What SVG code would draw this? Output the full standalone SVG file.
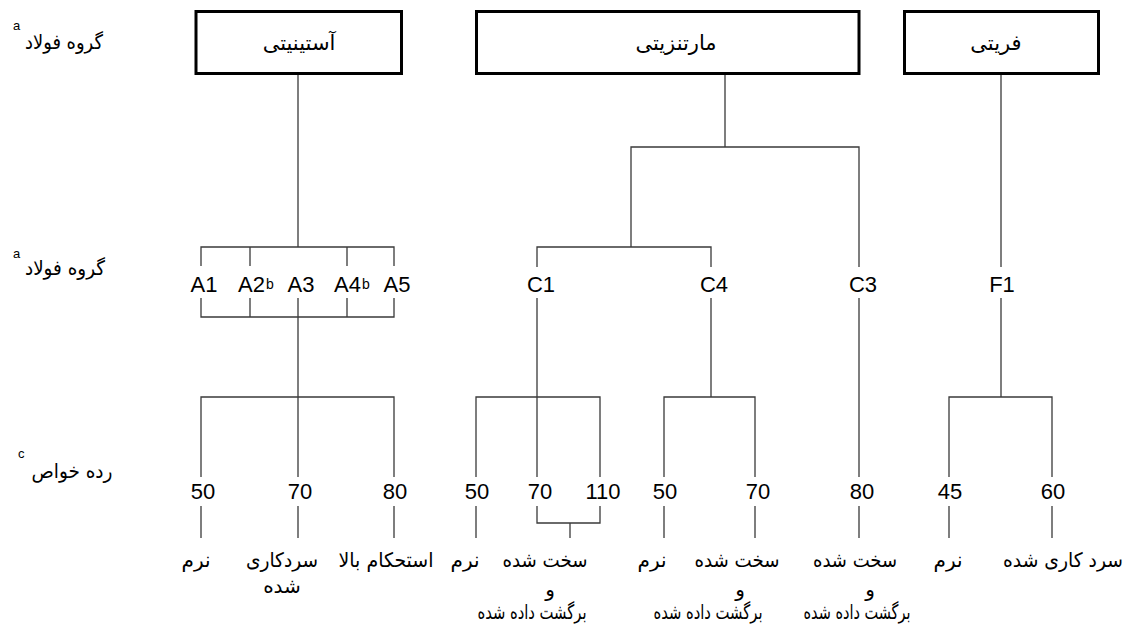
<svg xmlns="http://www.w3.org/2000/svg" width="1131" height="631" viewBox="0 0 1131 631">
<style>
.box{fill:#fff;stroke:#000;stroke-width:3}
.ln{stroke:#3a3a3a;stroke-width:1.3;fill:none}
.fa{font-family:"DejaVu Sans","Noto Sans",sans-serif;font-size:20px;fill:#000;text-anchor:middle}
.fb{font-family:"DejaVu Sans","Noto Sans",sans-serif;font-size:21px;fill:#000;text-anchor:middle}
.en{font-family:"Liberation Sans",Arial,sans-serif;font-size:22px;fill:#000;text-anchor:middle}
.es{font-family:"Liberation Sans",Arial,sans-serif;font-size:22px;fill:#000;text-anchor:start}
.sb{font-size:14px}
.sup{font-family:"Liberation Sans",Arial,sans-serif;font-size:13px;fill:#000}
</style>
<rect width="1131" height="631" fill="#fff"/>
<g id="row-labels">
<text class="fa" x="64" y="49" textLength="78" lengthAdjust="spacingAndGlyphs">گروه فولاد</text><text class="sup" x="13" y="30">a</text>
<text class="fa" x="65" y="275" textLength="80" lengthAdjust="spacingAndGlyphs">گروه فولاد</text><text class="sup" x="13" y="258">a</text>
<text class="fa" x="72" y="478" textLength="81" lengthAdjust="spacingAndGlyphs">رده خواص</text><text class="sup" x="18" y="458">c</text>
</g>
<g id="connectors" class="ln">
<path d="M298 75V247M201 266V247H394V266M250 247V266M347 247V266M201 298V317H394V298M250 298V317M298 298V477M347 298V317M201 477V397H394V477M201 506V538M298 506V538M394 506V538"/>
<path d="M725 75V147M631 247V147H859V267M537 267V247H711V267M537 298V477M476 477V397H600V477M711 298V397M664 477V397H755V477M859 298V477M476 506V538M537 506V523H600V506M570 523V538M664 506V538M755 506V538M859 506V538"/>
<path d="M1001 75V267M1001 298V397M949 477V397H1052V477M949 506V538M1052 506V538"/>
</g>
<g id="austenitic">
<rect class="box" x="196" y="11.5" width="205.5" height="62"/>
<text class="fb" x="299" y="50">آستینیتی</text>
</g>
<g id="martensitic">
<rect class="box" x="476.5" y="11.5" width="382.5" height="62"/>
<text class="fb" x="676" y="50">مارتنزیتی</text>
</g>
<g id="ferritic">
<rect class="box" x="904.5" y="11.5" width="194" height="62"/>
<text class="fb" x="996" y="50">فریتی</text>
</g>
<g id="grades">
<text class="en" x="204" y="292">A1</text>
<text class="es" x="238" y="292">A2<tspan class="sb" dx="1" dy="-3">b</tspan></text>
<text class="en" x="301" y="292">A3</text>
<text class="es" x="334" y="292">A4<tspan class="sb" dx="1" dy="-3">b</tspan></text>
<text class="en" x="397" y="292">A5</text>
<text class="en" x="541" y="292">C1</text>
<text class="en" x="714" y="292">C4</text>
<text class="en" x="863" y="292">C3</text>
<text class="en" x="1002" y="292">F1</text>
</g>
<g id="classes">
<text class="en" x="203" y="499">50</text>
<text class="en" x="300" y="499">70</text>
<text class="en" x="395" y="499">80</text>
<text class="en" x="477" y="499">50</text>
<text class="en" x="540" y="499">70</text>
<text class="en" x="603" y="499">110</text>
<text class="en" x="665" y="499">50</text>
<text class="en" x="758" y="499">70</text>
<text class="en" x="862" y="499">80</text>
<text class="en" x="950" y="499">45</text>
<text class="en" x="1053" y="499">60</text>
</g>
<g id="conditions">
<text class="fa" x="196" y="567">نرم</text>
<text class="fa" x="282" y="567" textLength="72" lengthAdjust="spacingAndGlyphs">سردکاری</text>
<text class="fa" x="282" y="593">شده</text>
<text class="fa" x="386" y="567" textLength="95" lengthAdjust="spacingAndGlyphs">استحکام بالا</text>
<text class="fa" x="465" y="567">نرم</text>
<text class="fa" x="545" y="567" textLength="85" lengthAdjust="spacingAndGlyphs">سخت شده</text>
<text class="fa" x="550" y="596">و</text>
<text class="fa" x="532" y="619" textLength="109" lengthAdjust="spacingAndGlyphs">برگشت داده شده</text>
<text class="fa" x="652" y="567">نرم</text>
<text class="fa" x="737" y="567" textLength="85" lengthAdjust="spacingAndGlyphs">سخت شده</text>
<text class="fa" x="740" y="596">و</text>
<text class="fa" x="708" y="619" textLength="109" lengthAdjust="spacingAndGlyphs">برگشت داده شده</text>
<text class="fa" x="855" y="567" textLength="84" lengthAdjust="spacingAndGlyphs">سخت شده</text>
<text class="fa" x="870" y="596">و</text>
<text class="fa" x="857" y="619" textLength="107" lengthAdjust="spacingAndGlyphs">برگشت داده شده</text>
<text class="fa" x="948" y="567">نرم</text>
<text class="fa" x="1063" y="567" textLength="120" lengthAdjust="spacingAndGlyphs">سرد کاری شده</text>
</g>
</svg>
